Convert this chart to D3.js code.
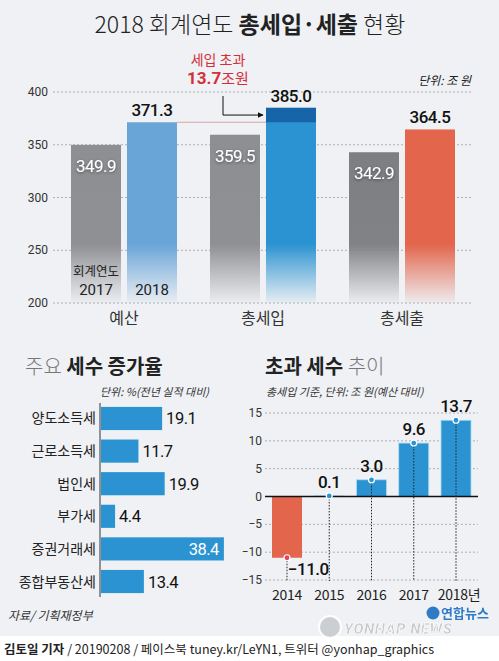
<!DOCTYPE html>
<html><head><meta charset="utf-8">
<script src="https://cdn.jsdelivr.net/npm/d3@7/dist/d3.min.js"></script>
<style>
html,body{margin:0;padding:0;background:#eff1f4;}
svg{display:block;}
text{font-family:"Roboto","Noto Sans CJK KR",sans-serif;}
.kr{font-family:"Noto Sans CJK KR","Noto Sans",sans-serif;}
</style></head><body>
<script>
// ---- data ----
const groups = ["예산", "총세입", "총세출"];
const years2 = ["2017", "2018"];
const values2017 = [349.9, 359.5, 342.9];
const values2018 = [371.3, 385.0, 364.5];
const topTicks = [200, 250, 300, 350, 400];

const taxNames = ["양도소득세", "근로소득세", "법인세", "부가세", "증권거래세", "종합부동산세"];
const taxRates = [19.1, 11.7, 19.9, 4.4, 38.4, 13.4];

const excessYears = ["2014", "2015", "2016", "2017", "2018년"];
const excessValues = [-11.0, 0.1, 3.0, 9.6, 13.7];
const excessTicks = [-15, -10, -5, 0, 5, 10, 15];

const W = 499, H = 661;
const svg = d3.select("body").append("svg").attr("width", W).attr("height", H);
const defs = svg.append("defs");

svg.append("rect").attr("width", W).attr("height", H).attr("fill", "#eff1f4");

// shadow filter
const f = defs.append("filter").attr("id", "sh").attr("x", "-20%").attr("y", "-30%").attr("width", "140%").attr("height", "160%");
f.append("feDropShadow").attr("dx", 0).attr("dy", 1).attr("stdDeviation", 1.5).attr("flood-color", "#000").attr("flood-opacity", 0.45);

// ---- title ----
const title = svg.append("text").attr("class", "kr").attr("x", 250).attr("y", 33)
  .attr("text-anchor", "middle").attr("font-size", 23).attr("fill", "#222");
title.append("tspan").attr("font-weight", 300).text("2018 회계연도 ");
title.append("tspan").attr("font-weight", 700).text("총세입·세출");
title.append("tspan").attr("font-weight", 300).text(" 현황");

// ---- top chart ----
const y = d3.scaleLinear().domain([200, 400]).range([303, 92]);
const xg = d3.scaleBand().domain(groups).range([54.5, 471.5]);
const x1 = d3.scaleBand().domain(years2).range([0, 106]).paddingInner(0.107);
const gx = g => xg(g) + xg.bandwidth() / 2 - 53;

const topG = svg.append("g");
topG.selectAll("line.grid").data(topTicks).join("line")
  .attr("x1", 53).attr("x2", 472).attr("y1", d => y(d)).attr("y2", d => y(d))
  .attr("stroke", "#9a9ea4").attr("stroke-width", 0.8).attr("stroke-dasharray", "2,2");
topG.selectAll("text.tick").data(topTicks).join("text")
  .attr("x", 48).attr("y", d => y(d) + 4).attr("text-anchor", "end")
  .attr("font-size", 12).attr("fill", "#333").text(d => d);

function grad(id, c1, c2) {
  const lg = defs.append("linearGradient").attr("id", id).attr("gradientUnits", "userSpaceOnUse")
    .attr("x1", 0).attr("x2", 0).attr("y1", y(400)).attr("y2", y(200));
  lg.append("stop").attr("offset", 0).attr("stop-color", c1);
  lg.append("stop").attr("offset", 0.72).attr("stop-color", c2);
  lg.append("stop").attr("offset", 1).attr("stop-color", c2).attr("stop-opacity", 0.04);
}
grad("gGray", "#8c8e91", "#8e9093");
grad("gGray2", "#7a7c80", "#808285");
grad("gBlueL", "#6aa5d8", "#6aa5d8");
grad("gBlue", "#2b93d1", "#2b93d1");
grad("gRed", "#e2654c", "#e2654c");

const fill2017 = ["url(#gGray)", "url(#gGray)", "url(#gGray2)"];
const fill2018 = ["url(#gBlueL)", "url(#gBlue)", "url(#gRed)"];

topG.append("line").attr("x1", gx("예산") + x1("2018") + x1.bandwidth()).attr("x2", gx("총세입") + x1("2018"))
  .attr("y1", y(values2018[0])).attr("y2", y(values2018[0]))
  .attr("stroke", "#d8a7a7").attr("stroke-width", 1);

groups.forEach((g, i) => {
  topG.append("rect").attr("x", gx(g) + x1("2017")).attr("width", x1.bandwidth())
    .attr("y", y(values2017[i])).attr("height", y(200) - y(values2017[i])).attr("fill", fill2017[i]);
  topG.append("rect").attr("x", gx(g) + x1("2018")).attr("width", x1.bandwidth())
    .attr("y", y(values2018[i])).attr("height", y(200) - y(values2018[i])).attr("fill", fill2018[i]);
  topG.append("text").attr("x", gx(g) + x1("2017") + x1.bandwidth() / 2).attr("y", y(values2017[i]) + 27)
    .attr("text-anchor", "middle").attr("font-size", 17).attr("fill", "#fff").attr("filter", "url(#sh)")
    .attr("letter-spacing", -0.5).text(values2017[i].toFixed(1));
  topG.append("text").attr("x", gx(g) + x1("2018") + x1.bandwidth() / 2).attr("y", y(values2018[i]) - 6)
    .attr("text-anchor", "middle").attr("font-size", 17).attr("font-weight", 500).attr("fill", "#111")
    .attr("letter-spacing", -0.5).text(values2018[i].toFixed(1));
  topG.append("text").attr("class", "kr").attr("x", xg(g) + xg.bandwidth() / 2).attr("y", 324)
    .attr("text-anchor", "middle").attr("font-size", 16).attr("fill", "#333").text(g);
});

topG.append("rect").attr("x", gx("총세입") + x1("2018")).attr("width", x1.bandwidth())
  .attr("y", y(values2018[1])).attr("height", y(values2018[0]) - y(values2018[1])).attr("fill", "#1764a8");

topG.append("text").attr("class", "kr").attr("x", gx("예산") + x1("2017") + x1.bandwidth() / 2).attr("y", 276)
  .attr("text-anchor", "middle").attr("font-size", 12.5).attr("fill", "#222").text("회계연도");
years2.forEach(yr => {
  topG.append("text").attr("x", gx("예산") + x1(yr) + x1.bandwidth() / 2).attr("y", 295)
    .attr("text-anchor", "middle").attr("font-size", 15).attr("fill", "#222").text(yr);
});

// annotation
const ann = svg.append("g");
ann.append("text").attr("class", "kr").attr("x", 218).attr("y", 65).attr("text-anchor", "middle")
  .attr("font-size", 14).attr("fill", "#d4303a").text("세입 초과");
const a2 = ann.append("text").attr("class", "kr").attr("x", 218).attr("y", 84).attr("text-anchor", "middle")
  .attr("font-size", 15).attr("fill", "#d4303a");
a2.append("tspan").attr("font-weight", 700).attr("font-family", "Roboto").attr("font-size", 17).text("13.7");
a2.append("tspan").text("조원");
defs.append("marker").attr("id", "arr").attr("viewBox", "0 0 10 10").attr("refX", 9).attr("refY", 5)
  .attr("markerWidth", 6).attr("markerHeight", 6).attr("orient", "auto")
  .append("path").attr("d", "M0,0L10,5L0,10z").attr("fill", "#111");
const arrowY = (y(values2018[1]) + y(values2018[0])) / 2;
ann.append("path").attr("d", `M223,96V${arrowY}H${gx("총세입") + x1("2018") - 3}`)
  .attr("fill", "none").attr("stroke", "#111").attr("stroke-width", 1).attr("marker-end", "url(#arr)");

svg.append("text").attr("class", "kr").attr("x", 471).attr("y", 85).attr("text-anchor", "end")
  .attr("font-size", 12).attr("font-style", "italic").attr("fill", "#222").text("단위: 조 원");

// ---- bottom left chart ----
const bl = svg.append("g");
const t1 = bl.append("text").attr("class", "kr").attr("x", 25).attr("y", 374).attr("font-size", 20);
t1.append("tspan").attr("fill", "#777").attr("font-weight", 300).text("주요 ");
t1.append("tspan").attr("fill", "#222").attr("font-weight", 700).text("세수 증가율");
bl.append("text").attr("class", "kr").attr("x", 100).attr("y", 396).attr("font-size", 11)
  .attr("font-style", "italic").attr("fill", "#333").text("단위: %(전년 실적 대비)");

const xt = d3.scaleLinear().domain([0, 40]).range([101, 229]);
const yt = d3.scaleBand().domain(taxNames).range([403, 597]).paddingInner(0.29).paddingOuter(0.12);
bl.selectAll("rect").data(taxNames).join("rect")
  .attr("x", xt(0)).attr("y", d => yt(d)).attr("height", yt.bandwidth())
  .attr("width", (d, i) => xt(taxRates[i]) - xt(0)).attr("fill", "#2b93d1");
bl.append("line").attr("x1", 100).attr("x2", 100).attr("y1", 403).attr("y2", 597)
  .attr("stroke", "#333").attr("stroke-width", 1);
bl.selectAll("text.name").data(taxNames).join("text").attr("class", "kr")
  .attr("x", 96).attr("y", d => yt(d) + yt.bandwidth() / 2 + 5).attr("text-anchor", "end")
  .attr("font-size", 14).attr("fill", "#222").text(d => d);
bl.selectAll("text.val").data(taxNames).join("text")
  .attr("x", (d, i) => taxRates[i] > 30 ? xt(taxRates[i]) - 5 : xt(taxRates[i]) + 4)
  .attr("text-anchor", (d, i) => taxRates[i] > 30 ? "end" : "start")
  .attr("y", d => yt(d) + yt.bandwidth() / 2 + 6)
  .attr("font-size", 16.5).attr("letter-spacing", -0.5)
  .attr("fill", (d, i) => taxRates[i] > 30 ? "#fff" : "#111")
  .text((d, i) => taxRates[i].toFixed(1));

// ---- bottom right chart ----
const br = svg.append("g");
const t2 = br.append("text").attr("class", "kr").attr("x", 265).attr("y", 374).attr("font-size", 20);
t2.append("tspan").attr("fill", "#222").attr("font-weight", 700).text("초과 세수 ");
t2.append("tspan").attr("fill", "#777").attr("font-weight", 300).text("추이");
br.append("text").attr("class", "kr").attr("x", 266).attr("y", 396).attr("font-size", 11)
  .attr("font-style", "italic").attr("fill", "#333").text("총세입 기준, 단위: 조 원(예산 대비)");

const ye = d3.scaleLinear().domain([-15, 15]).range([580, 413]);
const xe = d3.scaleBand().domain(excessYears).range([266, 477]).paddingInner(0.29).paddingOuter(0.142);
br.selectAll("line.grid").data(excessTicks.filter(d => d !== 0)).join("line")
  .attr("x1", 265).attr("x2", 478).attr("y1", d => ye(d)).attr("y2", d => ye(d))
  .attr("stroke", "#9a9ea4").attr("stroke-width", 0.8).attr("stroke-dasharray", "2,2");
br.selectAll("text.tick").data(excessTicks).join("text")
  .attr("x", 262).attr("y", d => ye(d) + 4).attr("text-anchor", "end")
  .attr("font-size", 12).attr("fill", "#333").text(d => d < 0 ? "−" + Math.abs(d) : d);

br.selectAll("rect").data(excessYears).join("rect")
  .attr("x", d => xe(d)).attr("width", xe.bandwidth())
  .attr("y", (d, i) => ye(Math.max(0, excessValues[i])))
  .attr("height", (d, i) => Math.abs(ye(excessValues[i]) - ye(0)))
  .attr("fill", (d, i) => excessValues[i] < 0 ? "#e2654c" : "#2b93d1")
  .attr("stroke", (d, i) => excessValues[i] < 0 ? "none" : "#a9dcf3").attr("stroke-width", 0.8);
br.append("line").attr("x1", 265).attr("x2", 478).attr("y1", ye(0)).attr("y2", ye(0))
  .attr("stroke", "#111").attr("stroke-width", 1.3);
br.selectAll("line.drop").data(excessYears).join("line")
  .attr("x1", d => xe(d) + xe.bandwidth() / 2).attr("x2", d => xe(d) + xe.bandwidth() / 2)
  .attr("y1", (d, i) => ye(excessValues[i])).attr("y2", 581)
  .attr("stroke", "#222").attr("stroke-width", 1).attr("stroke-dasharray", "1.5,1.5");
br.selectAll("circle").data(excessYears).join("circle")
  .attr("cx", d => xe(d) + xe.bandwidth() / 2).attr("cy", (d, i) => ye(excessValues[i])).attr("r", 3)
  .attr("fill", (d, i) => excessValues[i] < 0 ? "#e2475a" : "#2b93d1")
  .attr("stroke", "#fff").attr("stroke-width", 1.2);
br.selectAll("text.val").data(excessYears).join("text")
  .attr("x", (d, i) => xe(d) + xe.bandwidth() / 2 + (excessValues[i] < 0 ? 1 : 0))
  .attr("y", (d, i) => excessValues[i] < 0 ? ye(excessValues[i]) + 17 : ye(excessValues[i]) - 8)
  .attr("text-anchor", (d, i) => excessValues[i] < 0 ? "start" : "middle")
  .attr("font-size", 17).attr("font-weight", 500).attr("fill", "#111").attr("letter-spacing", -0.5)
  .text((d, i) => excessValues[i] < 0 ? "−" + Math.abs(excessValues[i]).toFixed(1) : excessValues[i].toFixed(1));
br.selectAll("text.year").data(excessYears).join("text").attr("class", "kr")
  .attr("x", d => xe(d) + xe.bandwidth() / 2 + (d.length > 4 ? 3 : 0)).attr("y", 600)
  .attr("text-anchor", "middle").attr("font-size", 14).attr("fill", "#222").attr("letter-spacing", -0.3).text(d => d);

// ---- footer ----
svg.append("text").attr("class", "kr").attr("x", 8).attr("y", 620).attr("font-size", 12)
  .attr("font-style", "italic").attr("fill", "#333").text("자료/ 기획재정부");
svg.append("rect").attr("x", 0).attr("y", 636).attr("width", W).attr("height", H - 636).attr("fill", "#fff");

// logo
const logo = svg.append("g").attr("opacity", 0.9);
logo.append("circle").attr("cx", 330).attr("cy", 627).attr("r", 11).attr("fill", "#c9cccf").attr("stroke", "#fff").attr("stroke-width", 2);
logo.append("text").attr("x", 344).attr("y", 634).attr("font-size", 15).attr("font-weight", 900)
  .attr("font-style", "italic").attr("fill", "#c3c6c9").attr("stroke", "#fff").attr("stroke-width", 0.6)
  .attr("letter-spacing", 0.5).text("YONHAP NEWS");
logo.append("circle").attr("cx", 433).attr("cy", 613).attr("r", 6.5).attr("fill", "#1b6fc4");
logo.append("text").attr("class", "kr").attr("x", 441).attr("y", 618).attr("font-size", 13).attr("font-weight", 700)
  .attr("fill", "#1b6fc4").text("연합뉴스");

const ft = svg.append("text").attr("class", "kr").attr("x", 4).attr("y", 654).attr("font-size", 12.5).attr("fill", "#222");
ft.append("tspan").attr("font-weight", 700).text("김토일 기자");
ft.append("tspan").attr("font-weight", 400).text(" / 20190208 / 페이스북 tuney.kr/LeYN1, 트위터 @yonhap_graphics");
</script>
</body></html>
